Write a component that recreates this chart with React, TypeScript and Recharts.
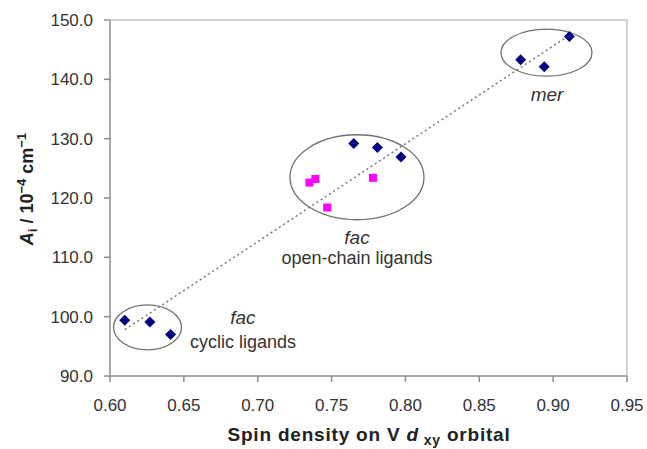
import { ScatterChart, Scatter, XAxis, YAxis, ReferenceLine } from "recharts";

// points
const ligandDiamonds = [
  { x: 0.610, y: 99.4 },
  { x: 0.627, y: 99.1 },
  { x: 0.641, y: 97.0 },
  { x: 0.765, y: 129.2 },
  { x: 0.781, y: 128.5 },
  { x: 0.797, y: 126.9 },
  { x: 0.878, y: 143.3 },
  { x: 0.894, y: 142.1 },
  { x: 0.911, y: 147.2 },
];

const ligandSquares = [
  { x: 0.735, y: 122.6 },
  { x: 0.739, y: 123.2 },
  { x: 0.747, y: 118.4 },
  { x: 0.778, y: 123.4 },
];

// dotted linear trend, end points
const trendLine = [
  { x: 0.610, y: 97.8 },
  { x: 0.912, y: 147.6 },
];

// group outlines (centre in data units, radii in px)
const groupEllipses = [
  { x: 0.6254, y: 98.2, rx: 34, ry: 22.5 },
  { x: 0.7672, y: 123.5, rx: 67, ry: 42.5 },
  { x: 0.8955, y: 144.5, rx: 45.5, ry: 23.5 },
];

const groupLabels = [
  { x: 0.8959, y: 137.5, text: "mer", italic: true },
  { x: 0.7672, y: 113.4, text: "fac", italic: true },
  { x: 0.7672, y: 109.9, text: "open-chain ligands", italic: false },
  { x: 0.690, y: 99.8, text: "fac", italic: true },
  { x: 0.690, y: 95.8, text: "cyclic ligands", italic: false },
];

const xTicks = [0.6, 0.65, 0.7, 0.75, 0.8, 0.85, 0.9, 0.95];
const yTicks = [90, 100, 110, 120, 130, 140, 150];

const FONT = "'Liberation Sans', Arial, sans-serif";
const AXIS = "#8c8c8c";

function Diamond(props: any) {
  const { cx, cy } = props;
  const s = 5.5;
  return (
    <polygon
      points={`${cx},${cy - s} ${cx + s},${cy} ${cx},${cy + s} ${cx - s},${cy}`}
      fill="#000080"
    />
  );
}

function Square(props: any) {
  const { cx, cy } = props;
  return <rect x={cx - 4} y={cy - 4} width={8} height={8} fill="#ff00ff" />;
}

function Ellipse(props: any) {
  const { cx, cy, payload } = props;
  return (
    <ellipse cx={cx} cy={cy} rx={payload.rx} ry={payload.ry} fill="none" stroke="#707070" strokeWidth={1.3} />
  );
}

function GroupText(props: any) {
  const { cx, cy, payload } = props;
  return (
    <text
      x={cx}
      y={cy}
      textAnchor="middle"
      dominantBaseline="central"
      fontFamily={FONT}
      fontSize={payload.italic ? 19 : 18}
      fontStyle={payload.italic ? "italic" : "normal"}
      fill="#333"
    >
      {payload.text}
    </text>
  );
}

export default function App() {
  return (
    <div style={{ position: "absolute", left: 0, top: 0, background: "white" }}>
      <ScatterChart width={647} height={449} margin={{ top: 20, right: 20, bottom: 0, left: 0 }}>
        <XAxis
          type="number"
          dataKey="x"
          domain={[0.6, 0.95]}
          ticks={xTicks}
          tickFormatter={(v) => v.toFixed(2)}
          height={73}
          stroke={AXIS}
          strokeWidth={1.5}
          tickSize={6}
          tickMargin={17}
          tick={{ fill: "#333", fontSize: 17, fontFamily: FONT }}
          label={{
            content: () => (
              <text
                x={369}
                y={441}
                textAnchor="middle"
                fontFamily={FONT}
                fontSize={19}
                fontWeight="bold"
                letterSpacing={0.8}
                fill="#222"
              >
                Spin density on V <tspan fontStyle="italic">d</tspan>
                <tspan fontSize={14} dy={4}> xy</tspan>
                <tspan dy={-4}> orbital</tspan>
              </text>
            ),
          }}
        />
        <YAxis
          type="number"
          dataKey="y"
          domain={[90, 150]}
          ticks={yTicks}
          tickFormatter={(v) => v.toFixed(1)}
          width={110}
          stroke={AXIS}
          strokeWidth={1.5}
          tickSize={6}
          tickMargin={11}
          tick={{ fill: "#333", fontSize: 17, fontFamily: FONT }}
          label={{
            content: () => (
              <text
                x={33}
                y={189}
                transform="rotate(-90, 33, 189)"
                textAnchor="middle"
                fontFamily={FONT}
                fontSize={18}
                fontWeight="bold"
                fill="#222"
              >
                <tspan fontStyle="italic">A</tspan>
                <tspan fontSize={13} dy={4}>i</tspan>
                <tspan dy={-4}> / 10</tspan>
                <tspan fontSize={13} dy={-7}>−4</tspan>
                <tspan dy={7}> cm</tspan>
                <tspan fontSize={13} dy={-7}>−1</tspan>
              </text>
            ),
          }}
        />
        <ReferenceLine y={150} stroke="#c4c4c4" strokeWidth={1.5} />
        <ReferenceLine x={0.95} stroke="#c4c4c4" strokeWidth={1.5} />
        <Scatter data={groupEllipses} shape={Ellipse} isAnimationActive={false} />
        <Scatter
          data={trendLine}
          line={{ stroke: "#777", strokeWidth: 1.5, strokeDasharray: "2 3" }}
          shape={() => <g />}
          isAnimationActive={false}
        />
        <Scatter data={ligandDiamonds} shape={Diamond} isAnimationActive={false} />
        <Scatter data={ligandSquares} shape={Square} isAnimationActive={false} />
        <Scatter data={groupLabels} shape={GroupText} isAnimationActive={false} />
      </ScatterChart>
    </div>
  );
}
